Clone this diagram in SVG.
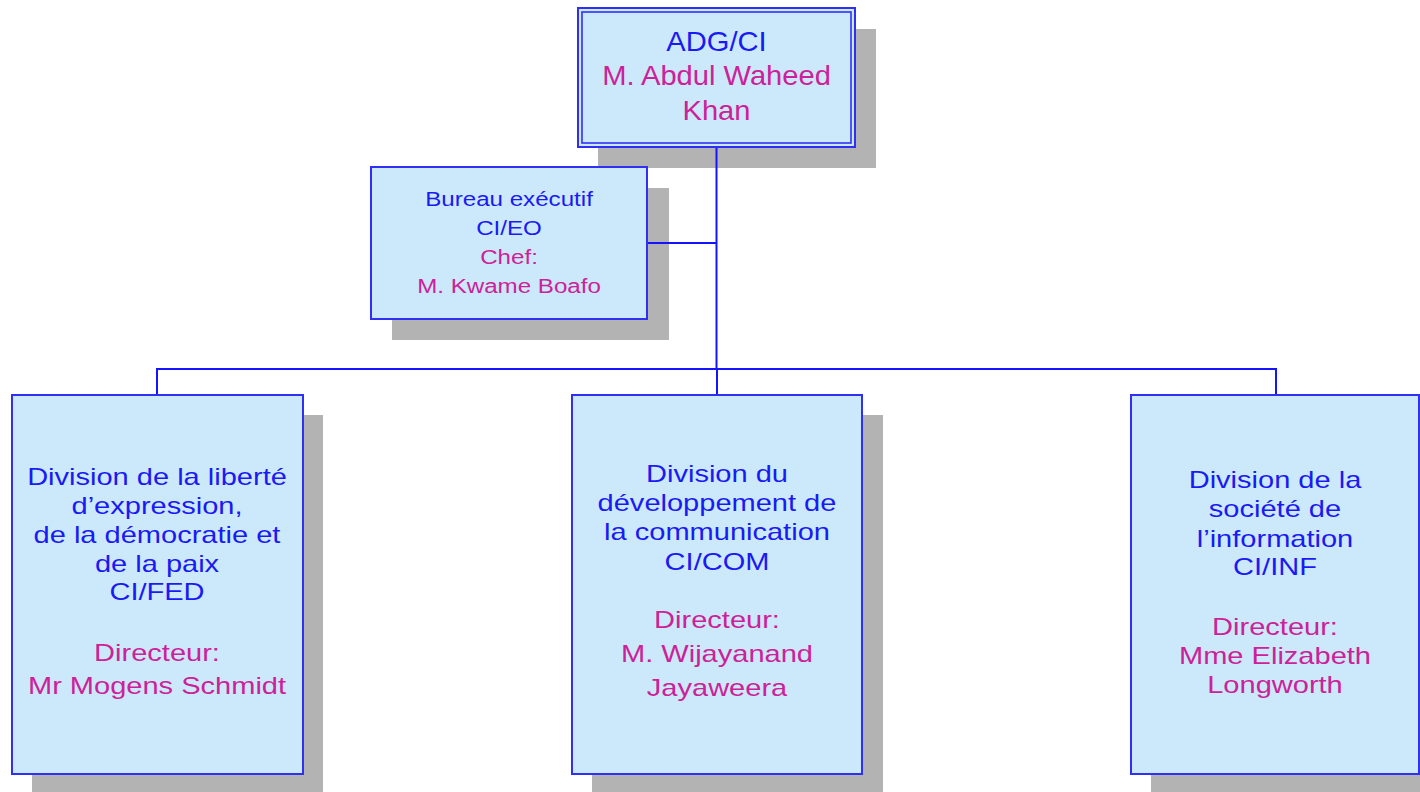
<svg xmlns="http://www.w3.org/2000/svg" width="1420" height="792" viewBox="0 0 1420 792">
  <style>
    .shadow { fill: #b3b3b3; }
    .box { fill: #cce9fb; stroke: #3030f5; stroke-width: 2; }
    .inner { fill: none; stroke: #3030f5; stroke-width: 1.6; }
    .link { fill: none; stroke: #1414ff; stroke-width: 2; }
    text { font-family: "Liberation Sans", Arial, sans-serif; text-anchor: middle; }
    .b { fill: #1a1af5; }
    .m { fill: #cc2299; }
  </style>

  <!-- head of sector -->
  <g id="adg">
    <rect class="shadow" x="598" y="29" width="278" height="139"/>
    <rect class="box" x="578" y="8" width="277" height="139"/>
    <rect class="inner" x="582" y="12" width="269" height="131"/>
    <g transform="translate(716.5,0) scale(1.04,1)" font-size="28">
      <text class="b" x="0" y="51">ADG/CI</text>
      <text class="m" x="0" y="85.5">M. Abdul Waheed</text>
      <text class="m" x="0" y="120">Khan</text>
    </g>
  </g>

  <!-- executive office -->
  <g id="bureau">
    <rect class="shadow" x="392" y="188" width="277" height="152"/>
    <rect class="box" x="371" y="167" width="276" height="152"/>
    <g transform="translate(509,0) scale(1.15,1)" font-size="21">
      <text class="b" x="0" y="206">Bureau exécutif</text>
      <text class="b" x="0" y="235">CI/EO</text>
      <text class="m" x="0" y="264">Chef:</text>
      <text class="m" x="0" y="293">M. Kwame Boafo</text>
    </g>
  </g>

  <!-- divisions -->
  <g id="fed">
    <rect class="shadow" x="32" y="415" width="291" height="380"/>
    <rect class="box" x="12" y="395" width="291" height="379"/>
    <g transform="translate(157,0) scale(1.21,1)" font-size="24">
      <text class="b" x="0" y="485">Division de la liberté</text>
      <text class="b" x="0" y="514">d’expression,</text>
      <text class="b" x="0" y="543">de la démocratie et</text>
      <text class="b" x="0" y="572">de la paix</text>
      <text class="b" x="0" y="600">CI/FED</text>
      <text class="m" x="0" y="661">Directeur:</text>
      <text class="m" x="0" y="694">Mr Mogens Schmidt</text>
    </g>
  </g>

  <g id="com">
    <rect class="shadow" x="592" y="415" width="291" height="380"/>
    <rect class="box" x="572" y="395" width="290" height="379"/>
    <g transform="translate(717,0) scale(1.21,1)" font-size="24">
      <text class="b" x="0" y="482">Division du</text>
      <text class="b" x="0" y="511">développement de</text>
      <text class="b" x="0" y="540">la communication</text>
      <text class="b" x="0" y="570">CI/COM</text>
      <text class="m" x="0" y="628">Directeur:</text>
      <text class="m" x="0" y="662">M. Wijayanand</text>
      <text class="m" x="0" y="696">Jayaweera</text>
    </g>
  </g>

  <g id="inf">
    <rect class="shadow" x="1151" y="415" width="290" height="380"/>
    <rect class="box" x="1131" y="395" width="288" height="379"/>
    <g transform="translate(1275,0) scale(1.21,1)" font-size="24">
      <text class="b" x="0" y="488">Division de la</text>
      <text class="b" x="0" y="517">société de</text>
      <text class="b" x="0" y="547">l’information</text>
      <text class="b" x="0" y="575">CI/INF</text>
      <text class="m" x="0" y="635">Directeur:</text>
      <text class="m" x="0" y="664">Mme Elizabeth</text>
      <text class="m" x="0" y="693">Longworth</text>
    </g>
  </g>

  <!-- connectors, drawn over the drop shadows -->
  <g id="connectors">
    <path class="link" d="M716.5 148 V369"/>
    <path class="link" d="M648 243 H716.5"/>
    <path class="link" d="M157 394 V369 H1276 V394"/>
    <path class="link" d="M717 369 V394"/>
  </g>
</svg>
